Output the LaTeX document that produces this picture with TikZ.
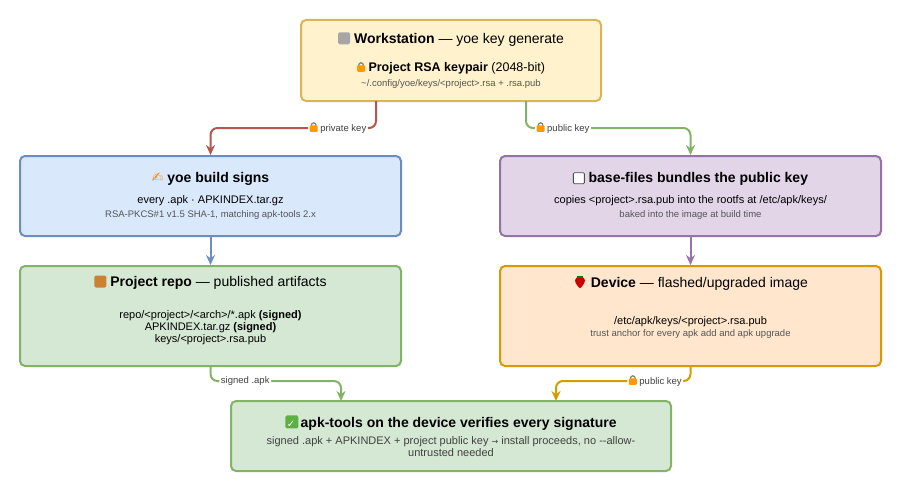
\documentclass[tikz,border=0pt]{standalone}
\usepackage{fontspec}
\setmainfont{Liberation Sans}
\newfontfamily\emo{DejaVu Sans}
\usetikzlibrary{arrows.meta}
\definecolor{ylwfill}{HTML}{FFF2CC}\definecolor{ylwline}{HTML}{D6B656}
\definecolor{bluefill}{HTML}{DAE8FC}\definecolor{blueline}{HTML}{6C8EBF}
\definecolor{purpfill}{HTML}{E1D5E7}\definecolor{purpline}{HTML}{9673A6}
\definecolor{grnfill}{HTML}{D5E8D4}\definecolor{grnline}{HTML}{82B366}
\definecolor{orgfill}{HTML}{FFE6CC}\definecolor{orgline}{HTML}{D79B00}
\definecolor{redline}{HTML}{B85450}
\definecolor{subtxt}{HTML}{555555}
\definecolor{chkgreen}{HTML}{5DB044}
\tikzset{
  box/.style={draw, line width=2pt, rounded corners=5pt, align=center, inner sep=0pt},
  flow/.style={line width=2pt, rounded corners=7pt},
  tip/.style={-{Stealth[length=10pt,width=9pt]}},
  lbl/.style={fill=white, inner sep=1.5pt, font=\fontsize{9.5}{11}\selectfont, text=black!75},
  ico/.style={x=1pt, y=1pt, baseline=0pt, line width=1pt, rounded corners=0pt, arrows=-}
}
\newcommand{\ttl}[1]{{\fontsize{14}{17}\selectfont #1}}
\newcommand{\sub}[1]{{\fontsize{9.5}{11}\selectfont\color{subtxt}#1}}
\newcommand{\bdy}[1]{{\fontsize{11}{13.5}\selectfont #1}}
% small inline pictograms in place of colour emoji
\newcommand{\pict}[2]{\tikz[ico]\fill[#1, rounded corners=1.5pt] (0,-1) rectangle (#2,#2-1);}
\newcommand{\lockico}{\tikz[ico]{\draw[gray, line width=1.2pt] (1.5,6) arc (180:0:2.5 and 3);\fill[orange!80!yellow, rounded corners=1pt] (0,0) rectangle (8,6.5);}}
\newcommand{\chkico}{\rlap{\pict{chkgreen}{13}}\hspace{1.5pt}{\emo\color{white}\fontsize{10}{10}\selectfont ✓}\hspace{1.5pt}}
\newcommand{\berry}{\tikz[ico]{\fill[red!80!black] (6,-1) .. controls (-1,5) and (0,11) .. (6,10) .. controls (12,11) and (13,5) .. (6,-1);\fill[green!50!black] (3,9) rectangle (9,11.5);}}
\begin{document}
\begin{tikzpicture}[x=1pt,y=-1pt]
  \useasboundingbox (0,0) rectangle (904,495);
  % Boxes
  \node[box, draw=ylwline, fill=ylwfill, minimum width=300, minimum height=81] (ws) at (451,60.5)
    {\ttl{\pict{gray!70}{12} \textbf{Workstation} — yoe key generate}\\[15pt]
     {\fontsize{12.5}{14}\selectfont\lockico\ \textbf{Project RSA keypair} (2048-bit)}\\[3pt]
     \sub{\textasciitilde/.config/yoe/keys/<project>.rsa + .rsa.pub}};
  \node[box, draw=blueline, fill=bluefill, minimum width=381, minimum height=80] (sign) at (210.5,196)
    {\ttl{{\emo\color{orange!90!yellow}✍} \textbf{yoe build signs}}\\[9pt]
     \bdy{every .apk · APKINDEX.tar.gz}\\[2pt]
     \sub{RSA-PKCS\#1 v1.5 SHA-1, matching apk-tools 2.x}};
  \node[box, draw=purpline, fill=purpfill, minimum width=381, minimum height=80] (base) at (690.5,196)
    {\ttl{\tikz[ico]\draw[black!70, fill=white, line width=0.8pt, rounded corners=1pt] (0,-1) rectangle (11,10); \textbf{base-files bundles the public key}}\\[9pt]
     \bdy{copies <project>.rsa.pub into the rootfs at /etc/apk/keys/}\\[2pt]
     \sub{baked into the image at build time}};
  \node[box, draw=grnline, fill=grnfill, minimum width=381, minimum height=100] (repo) at (210.5,316)
    {\ttl{\pict{brown!80!orange}{12} \textbf{Project repo} — published artifacts}\\[20pt]
     \bdy{repo/<project>/<arch>/*.apk \textbf{(signed)}}\\
     \bdy{APKINDEX.tar.gz \textbf{(signed)}}\\
     \bdy{keys/<project>.rsa.pub}\\[2pt]};
  \node[box, draw=orgline, fill=orgfill, minimum width=381, minimum height=100] (dev) at (690.5,316)
    {\ttl{\berry\ \textbf{Device} — flashed/upgraded image}\\[25pt]
     \bdy{/etc/apk/keys/<project>.rsa.pub}\\
     \sub{trust anchor for every apk add and apk upgrade}\\[8pt]};
  \node[box, draw=grnline, fill=grnfill, minimum width=440, minimum height=70] (apk) at (451,436)
    {\ttl{\chkico\ \textbf{apk-tools on the device verifies every signature}}\\[5pt]
     {\fontsize{11}{14}\selectfont\color{black!75}signed .apk + APKINDEX + project public key {\emo\fontsize{8}{8}\selectfont →} install proceeds, no -{}-allow-}\\
     {\fontsize{11}{14}\selectfont\color{black!75}untrusted needed}};
  % Connectors
  \coordinate (wsL) at (376,101);
  \coordinate (wsR) at (526,101);
  \coordinate (apkL) at (341,401);
  \coordinate (apkR) at (556,401);
  \draw[flow, tip, draw=redline] (wsL) |- (300,128) node[lbl, pos=0.75] {\lockico\ private key} -| (sign.north);
  \draw[flow, tip, draw=grnline] (wsR) |- (600,128) node[lbl, pos=0.75] {\lockico\ public key} -| (base.north);
  \draw[flow, tip, draw=blueline] (sign) -- (repo);
  \draw[flow, tip, draw=purpline] (base) -- (dev);
  \draw[flow, tip, draw=grnline] (repo.south) |- (280,381) node[lbl, pos=0.75] {signed .apk} -| (apkL);
  \draw[flow, tip, draw=orgline] (dev.south) |- (620,381) node[lbl, pos=0.75] {\lockico\ public key} -| (apkR);
\end{tikzpicture}
\end{document}
